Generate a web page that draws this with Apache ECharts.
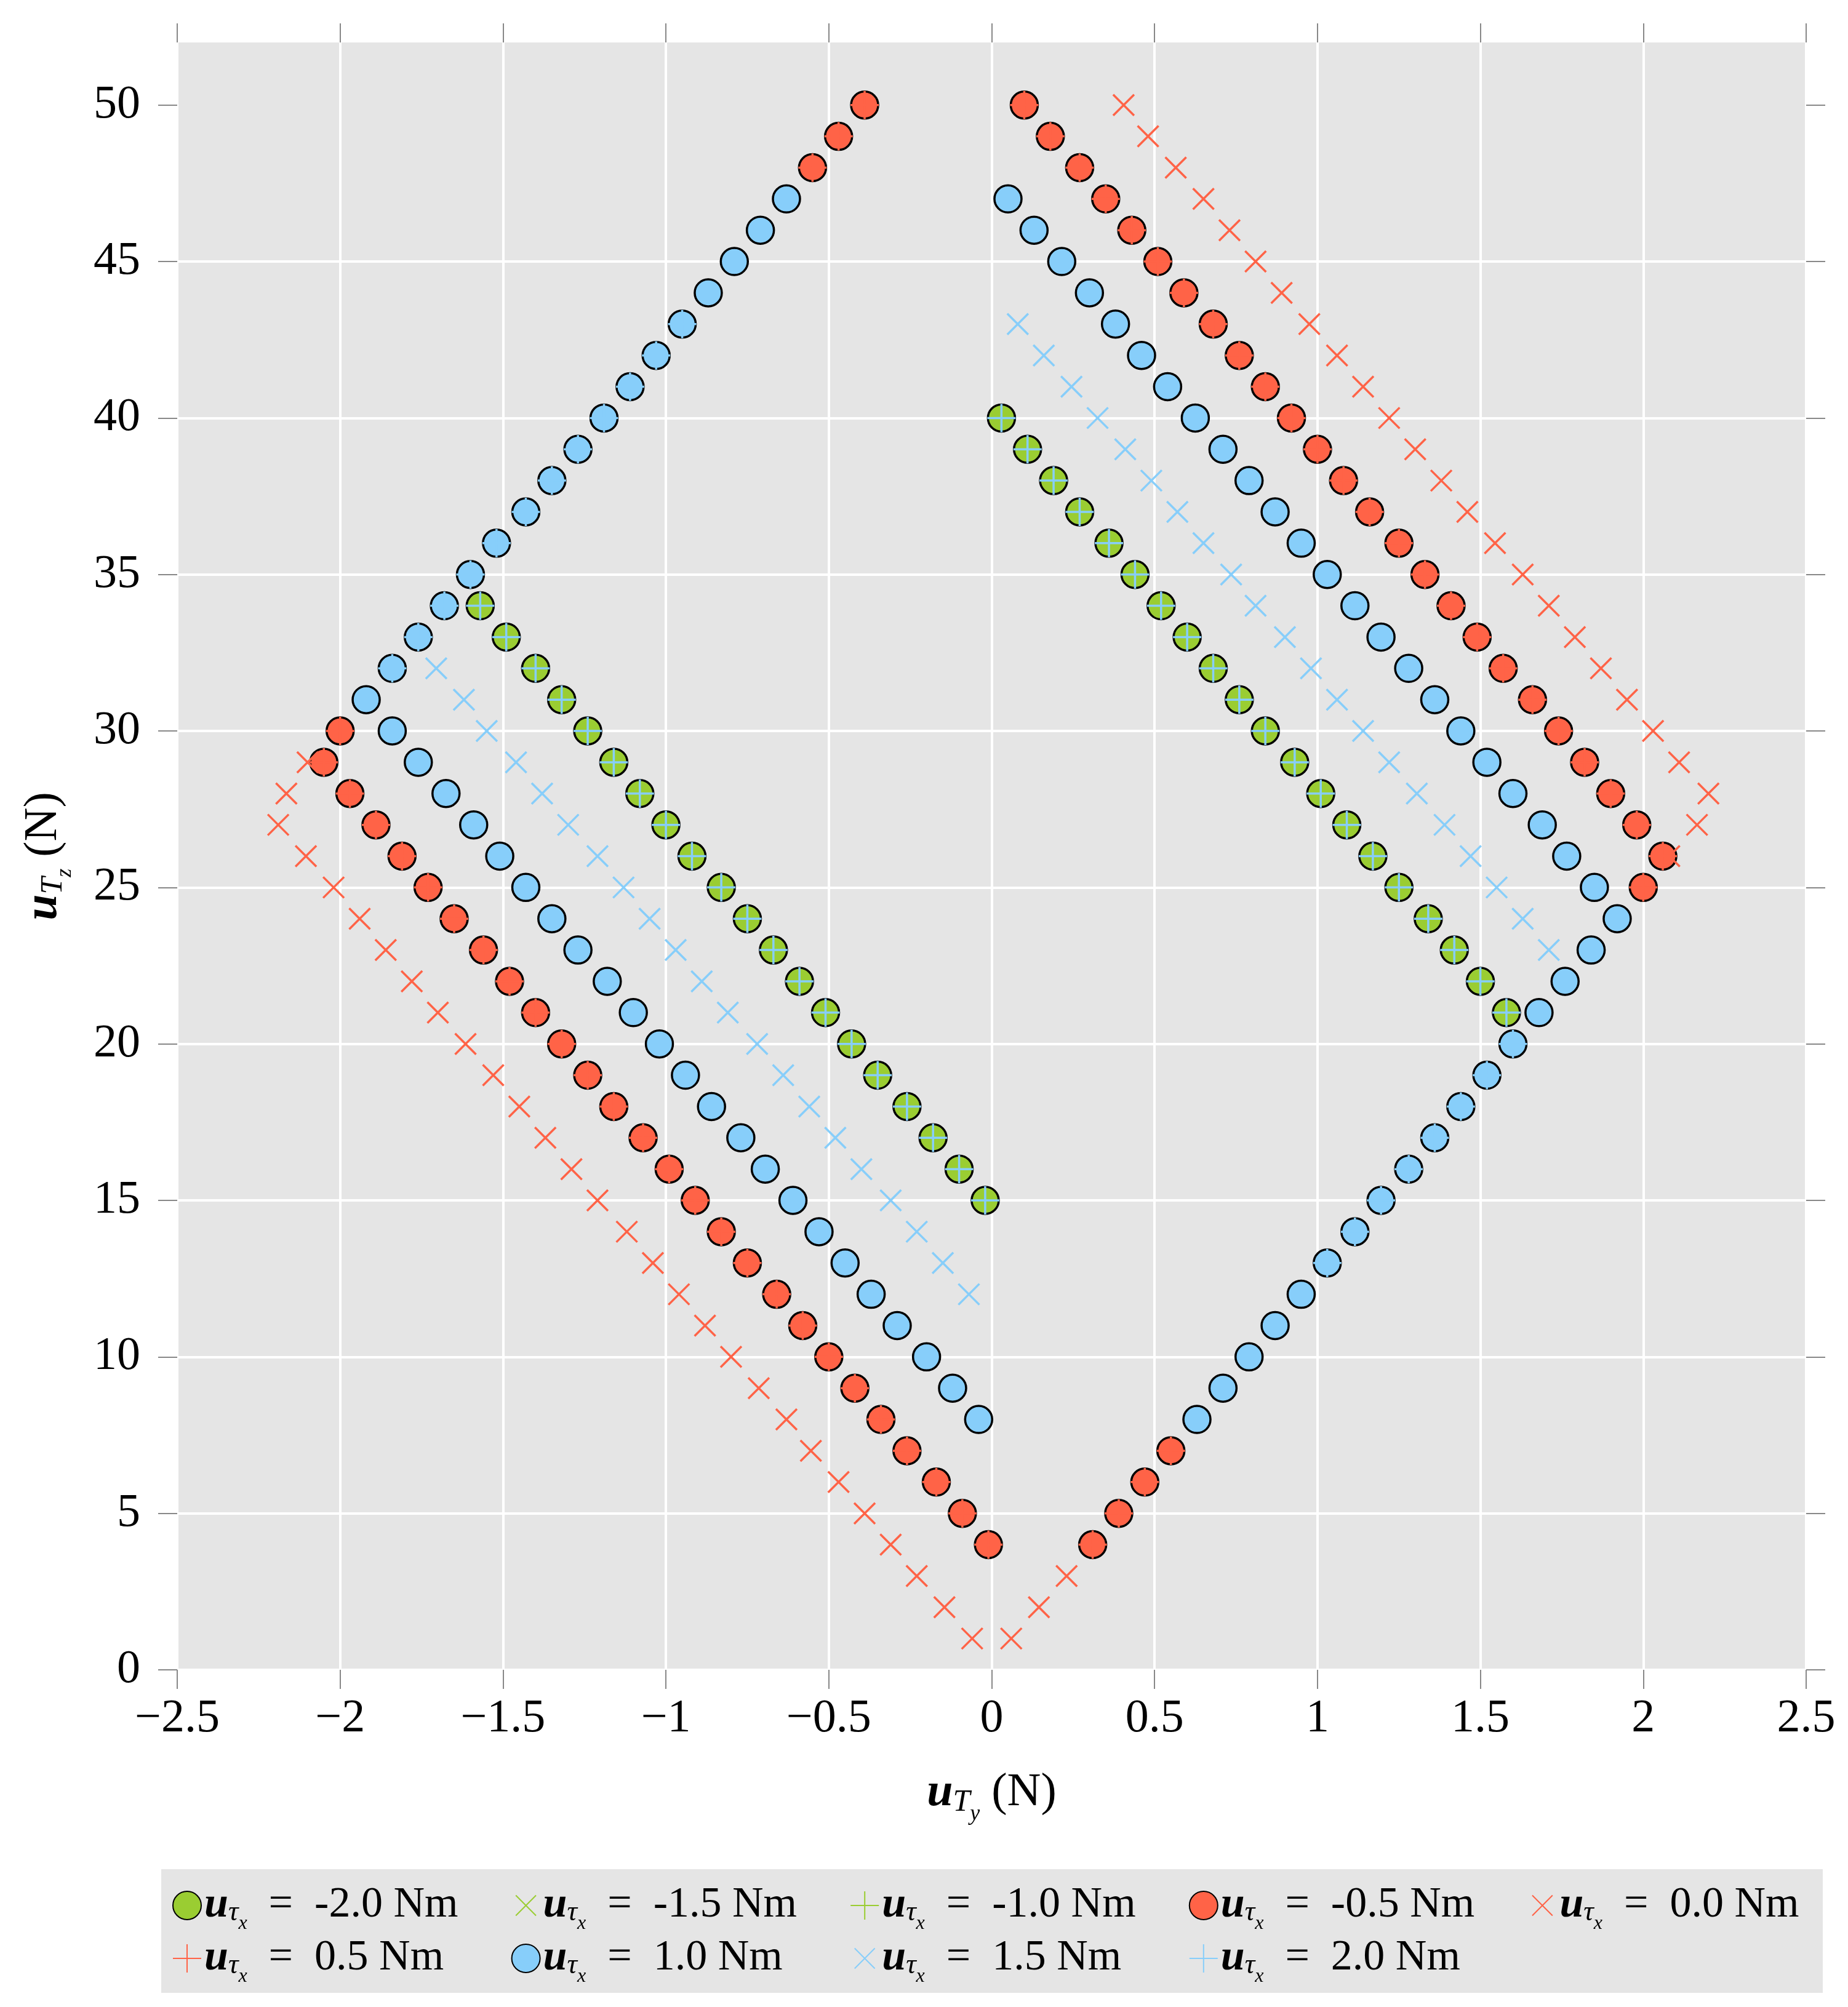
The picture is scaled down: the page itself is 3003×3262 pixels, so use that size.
<!DOCTYPE html>
<html>
<head>
<meta charset="utf-8">
<script src="https://cdn.jsdelivr.net/npm/echarts@6/dist/echarts.min.js"></script>
<style>
  html, body { margin: 0; padding: 0; background: #fff; }
  #chart { width: 3003px; height: 3262px; }
</style>
</head>
<body>
<div id="chart"></div>
<script>
// tau_x values, one series each
var tauNames = ['-2.0', '-1.5', '-1.0', '-0.5', '0.0', '0.5', '1.0', '1.5', '2.0'];

// points are [u_Ty, u_Tz]
var tauM20 = [
  [-1.57,34],[-1.49,33],[-1.40,32],[-1.32,31],[-1.24,30],[-1.16,29],[-1.08,28],[-1.00,27],[-0.92,26],[-0.83,25],
  [-0.75,24],[-0.67,23],[-0.59,22],[-0.51,21],[-0.43,20],[-0.35,19],[-0.26,18],[-0.18,17],[-0.10,16],[-0.02,15],
  [0.03,40],[0.11,39],[0.19,38],[0.27,37],[0.36,36],[0.44,35],[0.52,34],[0.60,33],[0.68,32],[0.76,31],
  [0.84,30],[0.93,29],[1.01,28],[1.09,27],[1.17,26],[1.25,25],[1.34,24],[1.42,23],[1.50,22],[1.58,21]
];
var tauM15 = [];
var tauM10 = [];
var tauM05 = [
  [-2.00,30],[-2.05,29],[-1.97,28],[-1.89,27],[-1.81,26],[-1.73,25],[-1.65,24],[-1.56,23],[-1.48,22],[-1.40,21],
  [-1.32,20],[-1.24,19],[-1.16,18],[-1.07,17],[-0.99,16],[-0.91,15],[-0.83,14],[-0.75,13],[-0.66,12],[-0.58,11],
  [-0.50,10],[-0.42,9],[-0.34,8],[-0.26,7],[-0.17,6],[-0.09,5],[-0.01,4],
  [-0.55,48],[-0.47,49],[-0.39,50],
  [0.31,4],[0.39,5],[0.47,6],[0.55,7],
  [0.10,50],[0.18,49],[0.27,48],[0.35,47],[0.43,46],[0.51,45],[0.59,44],[0.68,43],[0.76,42],[0.84,41],
  [0.92,40],[1.00,39],[1.08,38],[1.16,37],[1.25,36],[1.33,35],[1.41,34],[1.49,33],[1.57,32],[1.66,31],
  [1.74,30],[1.82,29],[1.90,28],[1.98,27],[2.06,26],[2.00,25]
];
var tau00 = [
  [-2.10,29],[-2.165,28],[-2.19,27],[-2.105,26],[-2.02,25],[-1.94,24],[-1.86,23],[-1.78,22],[-1.70,21],[-1.615,20],
  [-1.53,19],[-1.45,18],[-1.37,17],[-1.29,16],[-1.21,15],[-1.12,14],[-1.04,13],[-0.96,12],[-0.88,11],[-0.80,10],
  [-0.715,9],[-0.63,8],[-0.555,7],[-0.47,6],[-0.39,5],[-0.31,4],[-0.23,3],[-0.145,2],[-0.06,1],
  [0.06,1],[0.145,2],[0.23,3],
  [0.405,50],[0.48,49],[0.565,48],[0.65,47],[0.73,46],[0.81,45],[0.89,44],[0.975,43],[1.06,42],[1.14,41],
  [1.22,40],[1.30,39],[1.38,38],[1.46,37],[1.545,36],[1.63,35],[1.71,34],[1.79,33],[1.87,32],[1.95,31],
  [2.03,30],[2.11,29],[2.20,28],[2.165,27],[2.08,26]
];
// the 0.5 crosses sit under the -0.5 circles, only their tips poke out
var tau05 = tauM05;
var tau10 = [
  [-1.92,31],[-1.84,32],[-1.76,33],[-1.68,34],[-1.60,35],[-1.52,36],[-1.43,37],[-1.35,38],[-1.27,39],[-1.19,40],
  [-1.11,41],[-1.03,42],[-0.95,43],[-0.87,44],[-0.79,45],[-0.71,46],[-0.63,47],
  [-1.84,30],[-1.76,29],[-1.675,28],[-1.59,27],[-1.51,26],[-1.43,25],[-1.35,24],[-1.27,23],[-1.18,22],[-1.10,21],
  [-1.02,20],[-0.94,19],[-0.86,18],[-0.77,17],[-0.695,16],[-0.61,15],[-0.53,14],[-0.45,13],[-0.37,12],[-0.29,11],
  [-0.20,10],[-0.12,9],[-0.04,8],
  [0.63,8],[0.71,9],[0.79,10],[0.87,11],[0.95,12],[1.03,13],[1.115,14],[1.195,15],[1.28,16],[1.36,17],
  [1.44,18],[1.52,19],[1.60,20],[1.68,21],[1.76,22],[1.84,23],[1.92,24],
  [1.85,25],[1.765,26],[1.69,27],[1.60,28],[1.52,29],[1.44,30],[1.36,31],[1.28,32],[1.195,33],[1.115,34],
  [1.03,35],[0.95,36],[0.87,37],[0.79,38],[0.71,39],[0.625,40],[0.54,41],[0.46,42],[0.38,43],[0.30,44],
  [0.215,45],[0.13,46],[0.05,47]
];
var tau15 = [
  [-1.705,32],[-1.62,31],[-1.55,30],[-1.46,29],[-1.38,28],[-1.30,27],[-1.21,26],[-1.13,25],[-1.05,24],[-0.97,23],
  [-0.89,22],[-0.81,21],[-0.72,20],[-0.64,19],[-0.56,18],[-0.48,17],[-0.40,16],[-0.31,15],[-0.23,14],[-0.15,13],
  [-0.07,12],
  [0.08,43],[0.16,42],[0.245,41],[0.325,40],[0.41,39],[0.49,38],[0.57,37],[0.65,36],[0.735,35],[0.81,34],
  [0.90,33],[0.98,32],[1.06,31],[1.14,30],[1.22,29],[1.305,28],[1.39,27],[1.47,26],[1.55,25],[1.63,24],
  [1.71,23]
];
// blue circles that show little marks on their rim
var blueUnder = [
  [-1.84,32],[-1.76,33],[-1.68,34],[-1.60,35],[-1.52,36],[-1.43,37],[-1.35,38],[-1.27,39],[-1.19,40],[-1.11,41],
  [-1.03,42],[-0.95,43],
  [1.03,13],[1.115,14],[1.195,15],[1.28,16],[1.36,17],[1.44,18],[1.52,19],[1.60,20]
];
// the 2.0 crosses are the ones drawn on top of the green circles
var tau20 = tauM20.concat(blueUnder);

var yTicks = [0, 5, 10, 15, 20, 25, 30, 35, 40, 45, 50];

var GREEN = '#9acd32', TOMATO = '#ff6347', SKY = '#87cefa';
var FONT = 'Liberation Serif';

var PLUS = 'path://M5,0L5,10M0,5L10,5';
var CROSS = 'path://M0,0L10,10M10,0L0,10';
var CROSS_ICON = 'path://M-2,-2M0,0L10,10M10,0L0,10M12,12';

function circleSeries(name, data, color) {
  return {
    name: name, type: 'scatter', data: data, symbol: 'circle', symbolSize: 44,
    itemStyle: { color: color, borderColor: '#000', borderWidth: 3.5, opacity: 1 },
    emphasis: { disabled: true }, silent: true
  };
}
function lineSeries(name, data, color, symbol, size) {
  return {
    name: name, type: 'scatter', data: data, symbol: symbol, symbolSize: size,
    itemStyle: { color: 'rgba(0,0,0,0)', borderColor: color, borderWidth: 3.5, opacity: 1 },
    emphasis: { disabled: true }, silent: true
  };
}

var series = [
  circleSeries(tauNames[0], tauM20, GREEN),
  lineSeries(tauNames[1], tauM15, GREEN, CROSS, 34),
  lineSeries(tauNames[2], tauM10, GREEN, PLUS, 46),
  circleSeries(tauNames[3], tauM05, TOMATO),
  lineSeries(tauNames[4], tau00, TOMATO, CROSS, 34),
  lineSeries(tauNames[5], tau05, TOMATO, PLUS, 46),
  circleSeries(tauNames[6], tau10, SKY),
  lineSeries(tauNames[7], tau15, SKY, CROSS, 34),
  lineSeries(tauNames[8], tau20, SKY, PLUS, 46)
];

var legendIcons = ['circle', CROSS_ICON, PLUS, 'circle', CROSS_ICON, PLUS, 'circle', CROSS_ICON, PLUS];

function xFmt(v) {
  if (Math.abs(v) < 1e-9) return '0';
  return (v < 0 ? '\u2212' : '') + Math.abs(v);
}
function yFmt(v) {
  return v % 5 === 0 ? String(v) : '';
}

var nameRich = {
  u: { fontFamily: FONT, fontSize: 76, fontWeight: 'bold', fontStyle: 'italic', lineHeight: 76, verticalAlign: 'top', color: '#000' },
  s: { fontFamily: FONT, fontSize: 50, fontStyle: 'italic', lineHeight: 50, verticalAlign: 'top', padding: [29, 0, 0, 0], color: '#000' },
  ss: { fontFamily: FONT, fontSize: 36, fontStyle: 'italic', lineHeight: 36, verticalAlign: 'top', padding: [55, 0, 0, 0], color: '#000' },
  n: { fontFamily: FONT, fontSize: 76, lineHeight: 76, verticalAlign: 'top', color: '#000' }
};

var legendRich = {
  u: { fontFamily: FONT, fontSize: 70, fontWeight: 'bold', fontStyle: 'italic', lineHeight: 70, verticalAlign: 'top', color: '#000' },
  t: { fontFamily: FONT, fontSize: 46, fontStyle: 'italic', lineHeight: 46, verticalAlign: 'top', padding: [24, 0, 0, 0], color: '#000' },
  x: { fontFamily: FONT, fontSize: 32, fontStyle: 'italic', lineHeight: 32, verticalAlign: 'top', padding: [49, 0, 0, 0], color: '#000' },
  r: { fontFamily: FONT, fontSize: 70, lineHeight: 70, verticalAlign: 'top', width: 424, align: 'left', color: '#000' }
};

var tickStyle = { show: true, inside: false, length: 31, lineStyle: { color: '#888', width: 2 } };
var noLine = { show: false, onZero: false };

var chart = echarts.init(document.getElementById('chart'), null, { renderer: 'canvas' });
chart.setOption({
  animation: false,
  backgroundColor: '#fff',
  textStyle: { fontFamily: FONT },
  graphic: [{
    type: 'rect', z: -10, silent: true,
    shape: { x: 262, y: 3038, width: 2700, height: 201 },
    style: { fill: '#e5e5e5' }
  }],
  grid: {
    left: 288, right: 68, top: 69, bottom: 548,
    show: true, backgroundColor: '#e5e5e5', borderWidth: 0
  },
  legend: {
    data: tauNames.map(function (n, i) { return { name: n, icon: legendIcons[i] }; }),
    left: 280, top: 3062, width: 2800,
    orient: 'horizontal', itemWidth: 46, itemHeight: 46, itemGap: 5,
    selectedMode: false, padding: 0,
    textStyle: { rich: legendRich },
    formatter: function (name) {
      return '{u|u}{t|\u03c4}{x|x}{r|  =  ' + name + ' Nm}';
    }
  },
  xAxis: [{
    type: 'value', min: -2.5, max: 2.5, interval: 0.5, position: 'bottom',
    axisLine: noLine, axisTick: tickStyle,
    axisLabel: { margin: 42, fontFamily: FONT, fontSize: 76, color: '#000', formatter: xFmt },
    splitLine: { show: true, lineStyle: { color: '#fff', width: 4 } },
    name: '{u|u}{s|T}{ss|y}{n| (N)}', nameLocation: 'middle', nameGap: 162,
    nameTextStyle: { rich: nameRich }
  }, {
    type: 'value', min: -2.5, max: 2.5, interval: 0.5, position: 'top',
    axisLine: noLine, axisTick: tickStyle,
    axisLabel: { show: false }, splitLine: { show: false }
  }],
  yAxis: [{
    type: 'value', min: 0, max: 52, interval: 5, position: 'left',
    axisLine: noLine,
    axisTick: Object.assign({ customValues: yTicks }, tickStyle),
    axisLabel: { margin: 60, fontFamily: FONT, fontSize: 76, color: '#000', formatter: yFmt, customValues: yTicks },
    splitLine: { show: true, showMaxLine: false, lineStyle: { color: '#fff', width: 4 } },
    name: '{u|u}{s|T}{ss|z}{n| (N)}', nameLocation: 'middle', nameGap: 179,
    nameTextStyle: { rich: nameRich }
  }, {
    type: 'value', min: 0, max: 52, interval: 5, position: 'right',
    axisLine: noLine,
    axisTick: Object.assign({ customValues: yTicks }, tickStyle),
    axisLabel: { show: false }, splitLine: { show: false }
  }],
  series: series
});
</script>
</body>
</html>
